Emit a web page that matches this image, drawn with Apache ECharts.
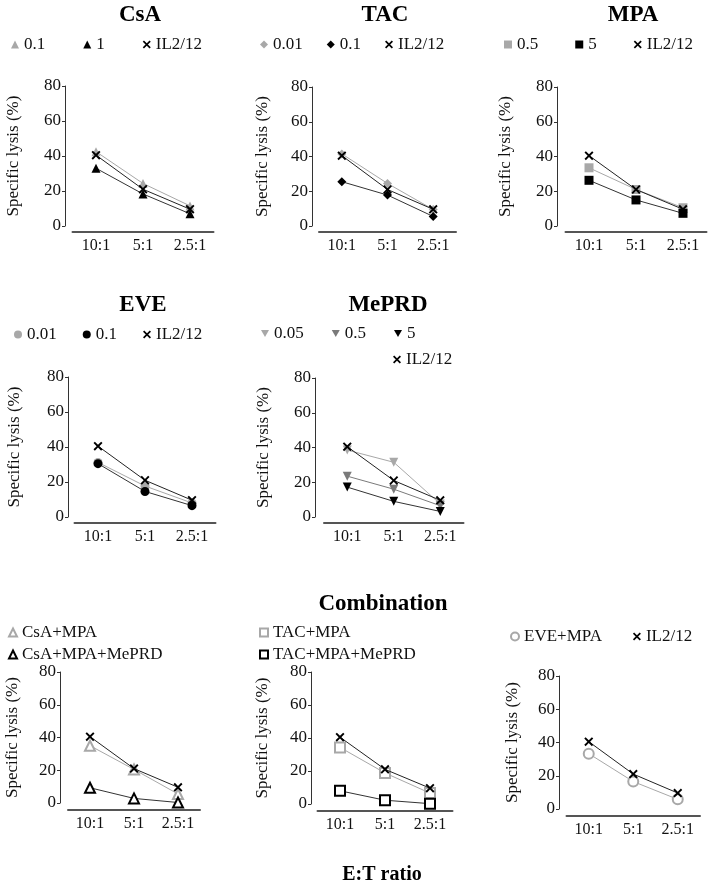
<!DOCTYPE html>
<html>
<head>
<meta charset="utf-8">
<script src="https://cdn.jsdelivr.net/npm/echarts@6/dist/echarts.min.js"></script>
<style>
  html, body { margin: 0; padding: 0; background: #fff; }
  #chart { width: 710px; height: 888px; }
</style>
</head>
<body>
<div id="chart"></div>
<script>
// E:T ratio categories and y ticks
const ratios = ["10:1", "5:1", "2.5:1"];
const yMin = 0, yMax = 80, yStep = 20;

// IL2/12 control (no drug)
const il2Ctrl = [40.5, 21, 9.6];
// CsA
const csa01 = [42.5, 24.3, 11.5];
const csa1 = [33, 18.3, 7];
// TAC
const tac001 = [41.5, 24.5, 9.5];
const tac01 = [25.5, 17.8, 5.5];
// MPA
const mpa05 = [33.5, 21, 10.5];
const mpa5 = [26.3, 15, 7.3];
// EVE
const eve001 = [31.2, 17.7, 8];
const eve01 = [30.5, 14.6, 6.5];
// MePRD
const meprd005 = [38.5, 31.5, 7.5];
const meprd05 = [23.5, 16, 6.5];
const meprd5 = [17.2, 9, 3.2];
// Combinations
const csaMpa = [35, 20.5, 5.5];
const csaMpaMeprd = [9.3, 2.8, 0.3];
const tacMpa = [34.3, 18.8, 6.6];
const tacMpaMeprd = [8, 2.3, 0.2];
const eveMpa = [33.3, 16.5, 5.8];

const FONT = "'Liberation Serif', 'Times New Roman', serif";
const LIGHT = "#a8a8a8";
const MID = "#7a7a7a";
const DARK = "#000";
const crossPath = "path://M0,1.5 L1.5,0 L5,3.5 L8.5,0 L10,1.5 L6.5,5 L10,8.5 L8.5,10 L5,6.5 L1.5,10 L0,8.5 L3.5,5 Z";
const downTri = "path://M0,0 L10,0 L5,9 Z";

const option = {
	animation: false,
	backgroundColor: "#fff",
	title: [],
	legend: [],
	grid: [],
	xAxis: [],
	yAxis: [],
	series: [],
};

function addTitle(text, x, y, size) {
	option.title.push({
		text: text,
		left: x,
		top: y,
		textAlign: "center",
		padding: 0,
		textStyle: { fontFamily: FONT, fontWeight: "bold", fontSize: size || 23, color: "#000" },
	});
}

// panel: grid box, axis offsets, name gap
function addPanel(p) {
	const idx = option.grid.length;
	option.grid.push({ left: p.left, top: p.top, width: p.width, height: p.height });
	option.xAxis.push({
		type: "category",
		gridIndex: idx,
		data: ratios,
		boundaryGap: true,
		offset: p.xOff,
		axisLine: { onZero: false, lineStyle: { color: "#555", width: 2 } },
		axisTick: { show: false },
		axisLabel: { fontFamily: FONT, fontSize: 16, color: "#111", margin: 6 },
	});
	option.yAxis.push({
		type: "value",
		gridIndex: idx,
		min: yMin,
		max: yMax,
		interval: yStep,
		offset: p.yOff,
		name: "Specific lysis (%)",
		nameLocation: "middle",
		nameRotate: 90,
		nameGap: p.nameGap,
		nameTextStyle: { fontFamily: FONT, fontSize: 17, color: "#111" },
		axisLine: { show: true, onZero: false, lineStyle: { color: "#333", width: 1 } },
		axisTick: { show: true, length: 3, lineStyle: { color: "#333" } },
		splitLine: { show: false },
		axisLabel: { fontFamily: FONT, fontSize: 17, color: "#111", margin: 4 },
	});
	p.series.forEach(function (s) {
		option.series.push({
			type: "line",
			name: p.key + "|" + s.label,
			xAxisIndex: idx,
			yAxisIndex: idx,
			data: s.data,
			symbol: s.symbol,
			symbolSize: s.size || 9,
			showAllSymbol: true,
			z: s.z || 2,
			itemStyle: { color: s.color, borderColor: s.color, borderWidth: s.border || 0 },
			lineStyle: { color: s.line || s.color, width: 1 },
		});
	});
	p.legends.forEach(function (lg) {
		option.legend.push({
			left: lg.left,
			top: lg.top,
			orient: lg.orient || "horizontal",
			itemGap: lg.gap,
			itemWidth: 8,
			itemHeight: 8,
			padding: 0,
			selectedMode: false,
			formatter: function (name) {
				return name.split("|")[1];
			},
			textStyle: { fontFamily: FONT, fontSize: 17, color: "#111" },
			data: lg.items.map(function (it) {
				const s = p.series.find(function (x) { return x.label === it; });
				return { name: p.key + "|" + it, icon: s.icon || s.symbol };
			}),
		});
	});
}

function ctrl(size) {
	return { label: "IL2/12", data: il2Ctrl, symbol: crossPath, color: DARK, line: "#222", size: size || 9, z: 3 };
}

// Row 1
addTitle("CsA", 140, 4);
addPanel({
	key: "CsA", left: 72.5, top: 86, width: 141, height: 140, xOff: 6, yOff: 7.5, nameGap: 43,
	series: [
		{ label: "0.1", data: csa01, symbol: "triangle", color: LIGHT, size: 9 },
		{ label: "1", data: csa1, symbol: "triangle", color: DARK, line: "#333", size: 9 },
		ctrl(),
	],
	legends: [{ left: 11, top: 36, gap: 38, items: ["0.1", "1", "IL2/12"] }],
});

addTitle("TAC", 385, 4);
addPanel({
	key: "TAC", left: 319, top: 87, width: 137, height: 139, xOff: 6, yOff: 7, nameGap: 41,
	series: [
		{ label: "0.01", data: tac001, symbol: "diamond", color: LIGHT, size: 9 },
		{ label: "0.1", data: tac01, symbol: "diamond", color: DARK, line: "#333", size: 9 },
		ctrl(),
	],
	legends: [{ left: 260, top: 36, gap: 24, items: ["0.01", "0.1", "IL2/12"] }],
});

addTitle("MPA", 633, 4);
addPanel({
	key: "MPA", left: 565.5, top: 87, width: 141, height: 139, xOff: 6, yOff: 8.5, nameGap: 43,
	series: [
		{ label: "0.5", data: mpa05, symbol: "rect", color: LIGHT, size: 9 },
		{ label: "5", data: mpa5, symbol: "rect", color: DARK, line: "#333", size: 9 },
		ctrl(),
	],
	legends: [{ left: 504, top: 36, gap: 37, items: ["0.5", "5", "IL2/12"] }],
});

// Row 2
addTitle("EVE", 143, 294);
addPanel({
	key: "EVE", left: 74.5, top: 377, width: 141, height: 140, xOff: 6, yOff: 6.5, nameGap: 45,
	series: [
		{ label: "0.01", data: eve001, symbol: "circle", color: LIGHT, size: 9 },
		{ label: "0.1", data: eve01, symbol: "circle", color: DARK, line: "#333", size: 9 },
		ctrl(),
	],
	legends: [{ left: 14, top: 326, gap: 26, items: ["0.01", "0.1", "IL2/12"] }],
});

addTitle("MePRD", 388, 294);
addPanel({
	key: "MePRD", left: 324, top: 378, width: 139.5, height: 139, xOff: 6, yOff: 9, nameGap: 43,
	series: [
		{ label: "0.05", data: meprd005, symbol: downTri, color: LIGHT, size: 9 },
		{ label: "0.5", data: meprd05, symbol: downTri, color: MID, size: 9 },
		{ label: "5", data: meprd5, symbol: downTri, color: DARK, line: "#333", size: 9 },
		ctrl(),
	],
	legends: [
		{ left: 261, top: 325, gap: 28, items: ["0.05", "0.5", "5"] },
		{ left: 393, top: 351, gap: 10, items: ["IL2/12"] },
	],
});

// Row 3
addTitle("Combination", 383, 593);
addPanel({
	key: "C1", left: 68, top: 672, width: 132, height: 131, xOff: 7, yOff: 8, nameGap: 39,
	series: [
		{ label: "CsA+MPA", data: csaMpa, symbol: "emptyTriangle", color: LIGHT, size: 10, border: 2 },
		{ label: "CsA+MPA+MePRD", data: csaMpaMeprd, symbol: "emptyTriangle", color: DARK, line: "#333", size: 10, border: 2 },
		ctrl(),
	],
	legends: [{ left: 8, top: 624, orient: "vertical", gap: 5, items: ["CsA+MPA", "CsA+MPA+MePRD"] }],
});

addPanel({
	key: "C2", left: 317.5, top: 672, width: 135, height: 132, xOff: 7, yOff: 6.5, nameGap: 40,
	series: [
		{ label: "TAC+MPA", data: tacMpa, symbol: "emptyRect", color: LIGHT, size: 10, border: 2 },
		{ label: "TAC+MPA+MePRD", data: tacMpaMeprd, symbol: "emptyRect", color: DARK, line: "#333", size: 10, border: 2 },
		ctrl(),
	],
	legends: [{ left: 259, top: 624, orient: "vertical", gap: 5, items: ["TAC+MPA", "TAC+MPA+MePRD"] }],
});

addPanel({
	key: "C3", left: 566.5, top: 676, width: 133.5, height: 133, xOff: 7, yOff: 7.5, nameGap: 38,
	series: [
		{ label: "EVE+MPA", data: eveMpa, symbol: "emptyCircle", color: LIGHT, size: 10, border: 2 },
		ctrl(),
	],
	legends: [{ left: 510, top: 628, gap: 31, items: ["EVE+MPA", "IL2/12"] }],
});

addTitle("E:T ratio", 382, 865, 20);

const chart = echarts.init(document.getElementById("chart"), null, { renderer: "canvas" });
chart.setOption(option);
</script>
</body>
</html>
